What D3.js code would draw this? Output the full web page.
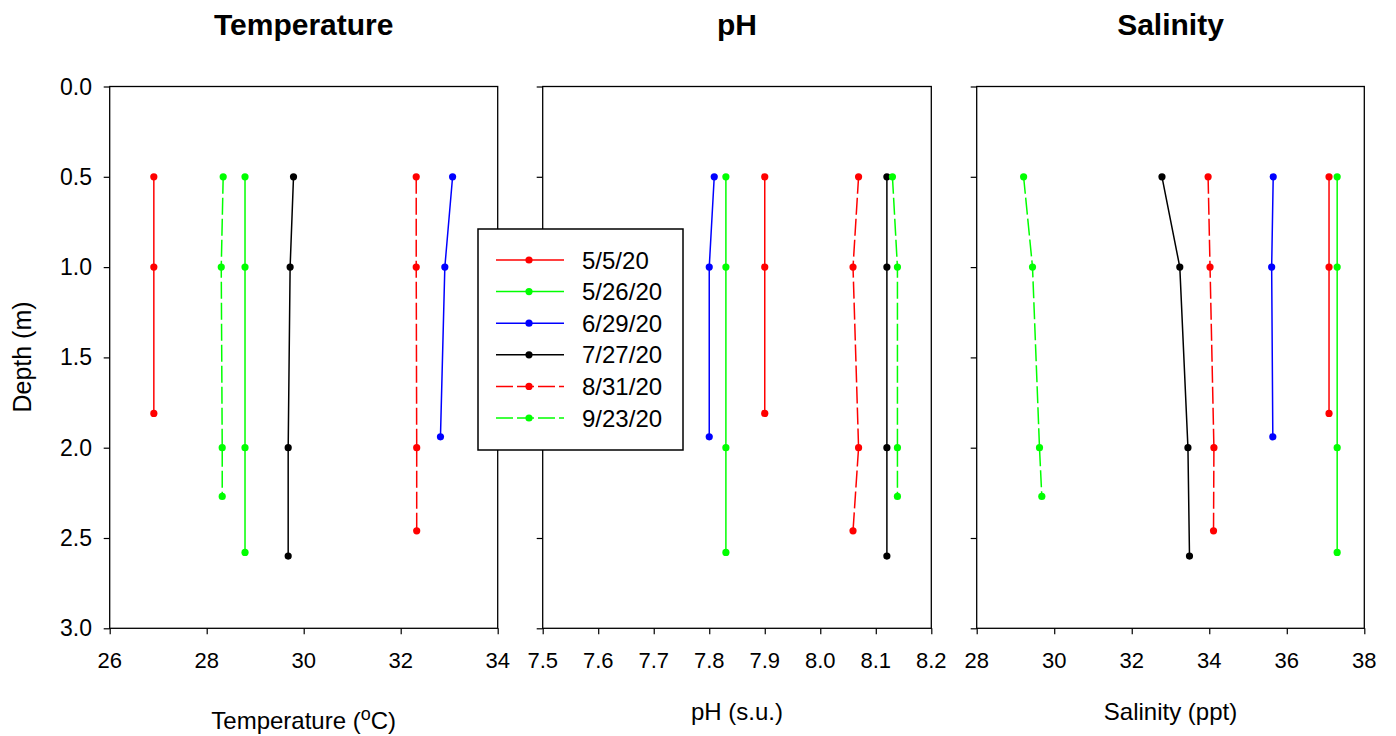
<!DOCTYPE html>
<html><head><meta charset="utf-8">
<script src="https://cdn.jsdelivr.net/npm/d3@7"></script>
<style>body{margin:0;background:#fff}svg text{font-family:"Liberation Sans",Arial,sans-serif;fill:#000}</style>
</head><body><svg id="c" width="1396" height="736"></svg>
<script>
const dates = ["5/5/20","5/26/20","6/29/20","7/27/20","8/31/20","9/23/20"];
const colors = ["#ff0000","#00ff00","#0000ff","#000000","#ff0000","#00ff00"];
const dashed = [false,false,false,false,true,true];
const depths = [
  [0.5,1.0,1.81],
  [0.5,1.0,2.0,2.58],
  [0.5,1.0,1.94],
  [0.5,1.0,2.0,2.60],
  [0.5,1.0,2.0,2.46],
  [0.5,1.0,2.0,2.27]
];
const temperature = [
  [26.91,26.91,26.91],
  [28.79,28.79,28.79,28.79],
  [33.07,32.91,32.82],
  [29.79,29.72,29.68,29.68],
  [32.32,32.32,32.33,32.33],
  [28.34,28.30,28.32,28.32]
];
const ph = [
  [7.90,7.90,7.90],
  [7.83,7.83,7.83,7.83],
  [7.809,7.800,7.800],
  [8.12,8.12,8.12,8.12],
  [8.069,8.059,8.069,8.059],
  [8.130,8.139,8.139,8.139]
];
const salinity = [
  [37.09,37.09,37.09],
  [37.30,37.30,37.30,37.30],
  [35.65,35.61,35.64],
  [32.78,33.24,33.45,33.49],
  [33.97,34.02,34.12,34.11],
  [29.21,29.44,29.62,29.68]
];
const tempTicks = [26,28,30,32,34];
const phTicks = [7.5,7.6,7.7,7.8,7.9,8.0,8.1,8.2];
const salTicks = [28,30,32,34,36,38];
const depthTicks = [0,0.5,1.0,1.5,2.0,2.5,3.0];
const titles = ["Temperature","pH","Salinity"];
const xLabels = ["Temperature (","pH (s.u.)","Salinity (ppt)"];

const svg = d3.select("#c");
function txt(g,x,yy,s,size,anchor,weight){
  return g.append("text").attr("x",x).attr("y",yy)
    .attr("text-anchor",anchor||"start").style("font-size",size+"px")
    .style("font-weight",weight||"normal").text(s);
}
const plotTop=86.5, plotBottom=628.3;
const y = d3.scaleLinear().domain([0,3]).range([plotTop,plotBottom]);
const panels = [
  {x0:109.7,x1:497.7,dom:[26,34],ticks:tempTicks,data:temperature,fmt:d3.format("d")},
  {x0:542.7,x1:931.3,dom:[7.5,8.2],ticks:phTicks,data:ph,fmt:d3.format(".1f")},
  {x0:976.7,x1:1364.3,dom:[28,38],ticks:salTicks,data:salinity,fmt:d3.format("d")}
];
const line = d3.line();
panels.forEach((p,pi)=>{
  const x = d3.scaleLinear().domain(p.dom).range([p.x0,p.x1]);
  const g = svg.append("g");
  g.append("rect").attr("x",p.x0).attr("y",plotTop).attr("width",p.x1-p.x0).attr("height",plotBottom-plotTop)
    .attr("fill","none").attr("stroke","#000").attr("stroke-width",1.3);
  const xa = g.append("g").attr("transform",`translate(0,${plotBottom})`)
    .call(d3.axisBottom(x).tickValues(p.ticks).tickSize(6).tickFormat(""));
  xa.select(".domain").remove();
  xa.selectAll("line").attr("stroke-width",1.2);
  p.ticks.forEach(t=>txt(g,x(t),668,p.fmt(t),22,"middle"));
  const ya = g.append("g").attr("transform",`translate(${p.x0},0)`)
    .call(d3.axisLeft(y).tickValues(depthTicks).tickSize(6).tickFormat(""));
  ya.select(".domain").remove();
  ya.selectAll("line").attr("stroke-width",1.2);
  if(pi===0) depthTicks.forEach(t=>txt(g,92,y(t)+8,d3.format(".1f")(t),23,"end"));
  txt(g,(p.x0+p.x1)/2,35,titles[pi],30,"middle","bold");
  if(pi===0){
    const t = g.append("text").attr("x",(p.x0+p.x1)/2).attr("y",729)
      .attr("text-anchor","middle").style("font-size","24px");
    t.append("tspan").text("Temperature (");
    t.append("tspan").attr("dy",-9).style("font-size","18px").text("o");
    t.append("tspan").attr("dy",9).text("C)");
  } else {
    txt(g,(p.x0+p.x1)/2,720,xLabels[pi],24,"middle");
  }
  dates.forEach((d,si)=>{
    const pts = depths[si].map((dv,i)=>[x(p.data[si][i]),y(dv)]);
    g.append("path").attr("d",line(pts)).attr("fill","none").attr("stroke",colors[si])
      .attr("stroke-width",1.5).attr("stroke-dasharray",dashed[si]?"17,4":null);
    g.selectAll(null).data(pts).enter().append("circle")
      .attr("cx",q=>q[0]).attr("cy",q=>q[1]).attr("r",3.6).attr("fill",colors[si]);
  });
});
svg.append("text").attr("transform","translate(31,357) rotate(-90)")
  .attr("text-anchor","middle").style("font-size","25px").text("Depth (m)");
const lg = svg.append("g");
lg.append("rect").attr("x",478).attr("y",229).attr("width",205).attr("height",221)
  .attr("fill","#fff").attr("stroke","#000").attr("stroke-width",1.5);
const ly = d3.scalePoint().domain(dates).range([260,418]);
dates.forEach((d,si)=>{
  const yy = ly(d);
  lg.append("line").attr("x1",496).attr("x2",564).attr("y1",yy).attr("y2",yy)
    .attr("stroke",colors[si]).attr("stroke-width",1.5).attr("stroke-dasharray",dashed[si]?"17,4":null);
  lg.append("circle").attr("cx",529).attr("cy",yy).attr("r",3.6).attr("fill",colors[si]);
  txt(lg,582,yy+8.5,d,24,"start");
});
</script></body></html>
